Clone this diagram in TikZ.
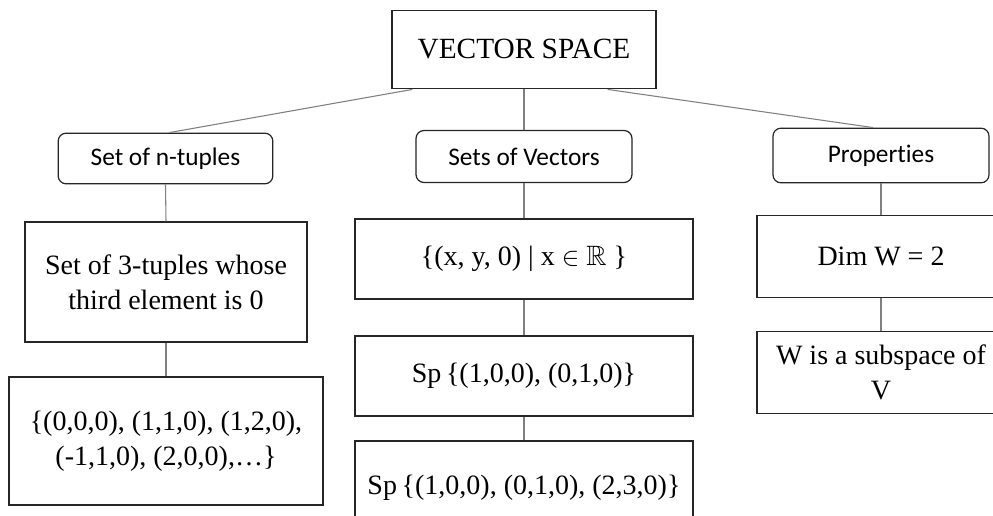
\documentclass[tikz,border=0pt]{standalone}
\usepackage{amssymb}
\usepackage{fontspec}
\setmainfont{Liberation Serif}
\newfontfamily\labelfont[Ligatures=NoCommon]{Carlito}
\usetikzlibrary{calc}
\begin{document}
\begin{tikzpicture}[x=0.75pt,y=-0.75pt,
  box/.style={draw=black!85,line width=0.9pt,align=center,inner sep=0pt,
    font=\fontsize{21}{26}\selectfont},
  headbox/.style={draw=black!85,line width=0.9pt,rounded corners=6pt,inner sep=0pt,
    font=\labelfont\fontsize{19}{23}\selectfont},
  link/.style={draw=black!50,line width=0.8pt}]
\useasboundingbox (0,0) rectangle (993,516);
\clip (0,0) rectangle (993,516);
\fill[white] (0,0) rectangle (993,516);

% root
\node[box,minimum width=198pt,minimum height=59pt,font=\fontsize{22}{26}\selectfont]
  (root) at (524,49.5) {VECTOR SPACE};

% category headers
\node[headbox,minimum width=161pt,minimum height=38pt] (tup) at (165.5,158.5) {Set of n-tuples};
\node[headbox,minimum width=162pt,minimum height=39pt] (vec) at (524,156.5) {Sets of Vectors};
\node[headbox,minimum width=162pt,minimum height=41pt] (prop) at (881,155.5) {Properties};

% left column
\node[box,minimum width=211.5pt,minimum height=90pt] (t1) at (166,282)
  {Set of 3-tuples whose\\third element is 0};
\node[box,minimum width=235.5pt,minimum height=96pt] (t2) at (166,441)
  {\{(0,0,0), (1,1,0), (1,2,0),\\(-1,1,0), (2,0,0),\dots\}};

% middle column
\node[box,minimum width=253.5pt,minimum height=60pt] (v1) at (524,259)
  {\{(x, y, 0) | x \scalebox{0.95}{$\in$} $\mathbb{R}$ \}};
\node[box,minimum width=253.5pt,minimum height=60pt] (v2) at (524,376)
  {Sp\,\{(1,0,0), (0,1,0)\}};
\node[box,minimum width=253.5pt,minimum height=70.5pt] (v3) at (524,488)
  {Sp\,\{(1,0,0), (0,1,0), (2,3,0)\}};

% right column
\node[box,minimum width=186pt,minimum height=61pt] (p1) at (881,256.5) {Dim W = 2};
\node[box,minimum width=186pt,minimum height=61pt] (p2) at (881,372.5)
  {W is a subspace of\\V};

% connectors
\draw[link] ($(root.south west)+(21,0)$) -- ($(tup.north)+(4,0)$);
\draw[link] (root.south) -- (vec.north);
\draw[link] ($(root.south east)+(-49,0)$) -- ($(prop.north)+(-8,0)$);
\draw[link] (tup.south) -- (t1.north);
\draw[link] (t1.south) -- (t2.north);
\draw[link] (vec.south) -- (v1.north);
\draw[link] (v1.south) -- (v2.north);
\draw[link] (v2.south) -- (v3.north);
\draw[link] (prop.south) -- (p1.north);
\draw[link] (p1.south) -- (p2.north);
\end{tikzpicture}
\end{document}
